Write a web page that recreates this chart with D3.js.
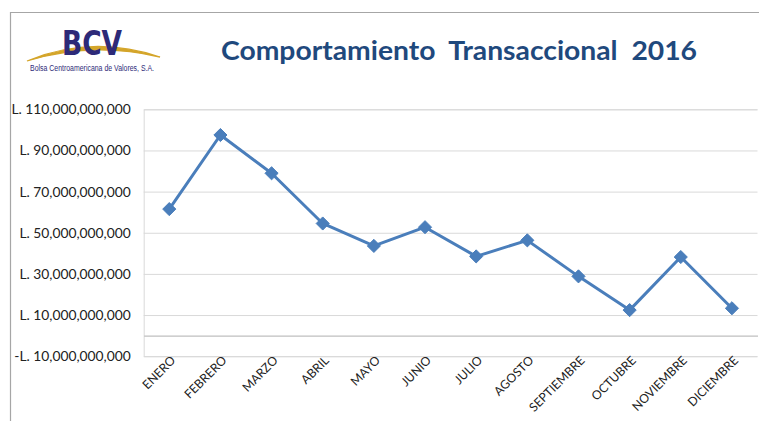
<!DOCTYPE html>
<html><head><meta charset="utf-8">
<script src="https://cdn.jsdelivr.net/npm/d3@7"></script>
<style>
html,body{margin:0;padding:0;background:#fff;}
svg{display:block;}
</style></head>
<body>
<svg id="chart" width="759" height="421"></svg>
<script>
const months = ["ENERO","FEBRERO","MARZO","ABRIL","MAYO","JUNIO","JULIO","AGOSTO","SEPTIEMBRE","OCTUBRE","NOVIEMBRE","DICIEMBRE"];
const values = [61.5e9, 97.5e9, 78.9e9, 54.5e9, 43.6e9, 52.7e9, 38.5e9, 46.3e9, 28.8e9, 12.4e9, 38.2e9, 13.3e9];
const yTicks = [-10e9, 10e9, 30e9, 50e9, 70e9, 90e9, 110e9];
const titleText = "Comportamiento\u00a0 Transaccional\u00a0 2016";

const svg = d3.select("#chart");
const font = "Lato, 'Open Sans', sans-serif";
const plot = {left: 143.7, right: 757.5, top: 109.3, bottom: 356.2};

// outer chart border
svg.append("path")
  .attr("d", "M10.5,421 L10.5,12.5 L759,12.5")
  .attr("fill", "none").attr("stroke", "#a6a6a6").attr("stroke-width", 1.2);

const x = d3.scaleBand().domain(months).range([plot.left, plot.right]);
const y = d3.scaleLinear().domain([-10e9, 110e9]).range([plot.bottom, plot.top]);

const fmt = v => (v < 0 ? "-L. " : "L. ") + d3.format(",")(Math.abs(v));

// gridlines + y axis
const yAxis = d3.axisLeft(y).tickValues(yTicks).tickSize(-(plot.right - plot.left)).tickFormat(fmt).tickPadding(13);
const gy = svg.append("g").attr("transform", `translate(${plot.left},0)`).call(yAxis);
gy.select(".domain").attr("stroke", "#d9d9d9");
gy.selectAll(".tick line").attr("stroke", "#d9d9d9").attr("stroke-width", 1);
gy.selectAll(".tick text").attr("font-family", font).attr("font-size", "13.8px").attr("fill", "#222");

// zero axis line
const xAxis = d3.axisBottom(x).tickSize(0).tickFormat("");
svg.append("g").attr("transform", `translate(0,${y(0)})`).call(xAxis)
  .select(".domain").attr("stroke", "#bfbfbf").attr("stroke-width", 1.2);

// x labels
svg.append("g").selectAll("text").data(months).join("text")
  .attr("transform", d => `translate(${x(d) + x.bandwidth()/2 + 7},${plot.bottom + 5}) rotate(-45)`)
  .attr("text-anchor", "end")
  .attr("font-family", font).attr("font-size", "12.2px").attr("fill", "#222")
  .text(d => d);

// line
const line = d3.line().x((d, i) => x(months[i]) + x.bandwidth()/2).y(d => y(d));
svg.append("path").datum(values).attr("d", line)
  .attr("fill", "none").attr("stroke", "#4a7ebb").attr("stroke-width", 3).attr("stroke-linejoin", "round");

svg.append("g").selectAll("path").data(values).join("path")
  .attr("d", d3.symbol(d3.symbolDiamond2 || d3.symbolDiamond, 110))
  .attr("transform", (d, i) => `translate(${x(months[i]) + x.bandwidth()/2},${y(d)})`)
  .attr("fill", "#4a7ebb").attr("stroke", "#4a7ebb").attr("stroke-width", 1);

// title
svg.append("text").attr("x", 459).attr("y", 60).attr("text-anchor", "middle")
  .attr("font-family", font).attr("font-weight", "bold").attr("font-size", "27px").attr("fill", "#1f497d")
  .attr("textLength", 476).attr("lengthAdjust", "spacingAndGlyphs")
  .text(titleText);

// logo
const logo = svg.append("g");
logo.append("path")
  .attr("d", "M27,61 Q92,34 160,57 Q92,41 27,61 Z")
  .attr("fill", "#d4a52a").attr("stroke", "#d4a52a").attr("stroke-width", 1.3);
logo.append("text").attr("x", 92).attr("y", 55).attr("text-anchor", "middle")
  .attr("font-family", "'Liberation Sans Narrow', 'DejaVu Sans Condensed', sans-serif").attr("font-weight", "bold")
  .attr("font-size", "34px").attr("fill", "#2d2a78").attr("textLength", 60).attr("lengthAdjust", "spacingAndGlyphs")
  .text("BCV");
logo.append("text").attr("x", 30).attr("y", 71)
  .attr("font-family", "'Liberation Sans Narrow', sans-serif")
  .attr("font-size", "8.5px").attr("fill", "#2d2a78").attr("textLength", 124).attr("lengthAdjust", "spacingAndGlyphs")
  .text("Bolsa Centroamericana de Valores, S.A.");
</script>
</body></html>
